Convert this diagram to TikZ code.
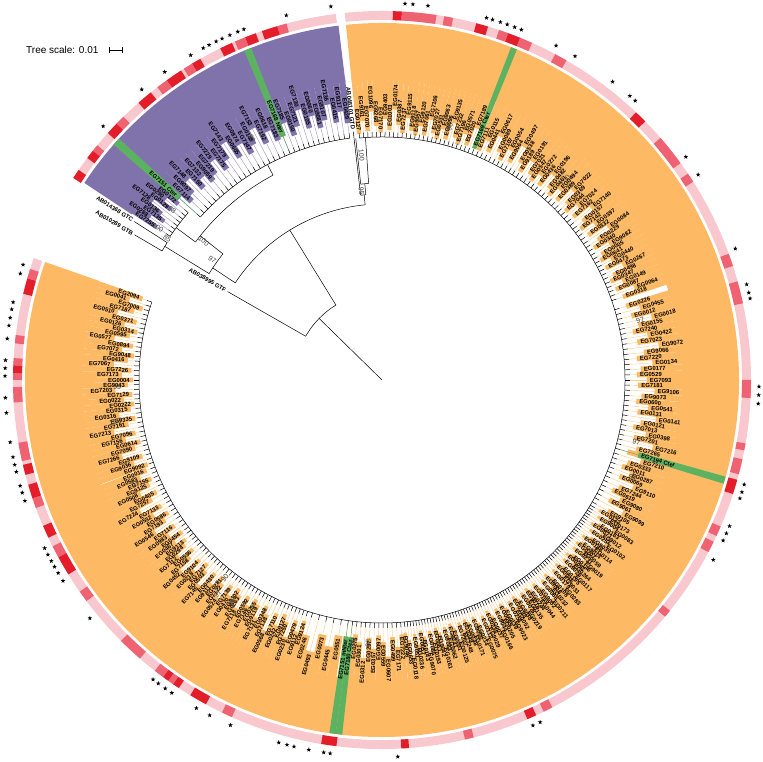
\documentclass[tikz,border=0pt]{standalone}
\usepackage{fontspec}
\setmainfont{Liberation Sans}
\usepackage{tikz}
\usetikzlibrary{shapes.geometric,calc}
\definecolor{cladeor}{RGB}{253,185,99}
\definecolor{cladepu}{RGB}{128,115,172}
\definecolor{hlgreen}{RGB}{92,178,96}
\definecolor{ringlt}{RGB}{249,200,206}
\definecolor{ringmd}{RGB}{239,98,114}
\definecolor{ringdk}{RGB}{227,30,42}
\newcommand{\leaffont}{\fontsize{5.9}{5.9}\selectfont\bfseries}
\newcommand{\bootfont}{\fontsize{7}{7}\selectfont}
\tikzset{
  branch/.style   = {draw=black, line width=0.5pt},
  stemlt/.style   = {line width=0.45pt},
  leaflbl/.style  = {font=\leaffont, inner sep=0pt, text=black},
  bootlbl/.style  = {font=\bootfont, inner sep=0pt, text=black!75},
  starmark/.style = {star, star points=5, star point ratio=2.4, fill=black,
                     inner sep=0pt, minimum size=4.8pt},
}
% annular band: #1 fill, #2 from angle, #3 to angle, #4 inner r, #5 outer r
\newcommand{\annband}[5]{\fill[#1] ({#2}:{#4}) arc[start angle={#2}, end angle={#3}, radius={#4}]
  -- ({#3}:{#5}) arc[start angle={#3}, end angle={#2}, radius={#5}] -- cycle;}
% leaf beds: #1 start angle, #2 step, #3 tip base, #4 stem base, #5 clade colour, #6 labels
\newcommand{\leafbed}[6]{%
  \foreach \lab [count=\k] in #6 {%
    \pgfmathsetmacro\ang{#1+(\k-1)*(#2)}%
    \pgfmathsetmacro\rt{#3+26*(mod(\k*37+11,23)/23)^2}%
    \pgfmathsetmacro\aa{\ang-abs(#2)/2}%
    \pgfmathsetmacro\ab{\ang+abs(#2)/2}%
    \annband{#5}{\aa}{\ab}{\rt-3}{304}%
    \draw[stemlt, draw=#5!70!white] ({\ang}:{#4+5}) -- ({\ang}:{\rt-3});
    \draw[branch] ({\ang}:{#4}) -- ({\ang}:{#4+5});
  }}
% leaf texts: #1 start angle, #2 step, #3 tip base, #4 name prefix, #5 labels
\newcommand{\leaftext}[5]{%
  \foreach \lab [count=\k] in #5 {%
    \pgfmathsetmacro\ang{#1+(\k-1)*(#2)}%
    \pgfmathsetmacro\rt{#3+26*(mod(\k*37+11,23)/23)^2}%
    \pgfmathtruncatemacro\flip{cos(\ang)<0}%
    \pgfmathsetmacro\rot{\ang+180*\flip}%
    \ifnum\flip=1 \def\anc{east}\else\def\anc{west}\fi
    \node[leaflbl, rotate=\rot, anchor=\anc] (#4\k) at ({\ang}:{\rt}) {\lab};
  }}
% leaf lists, clockwise from the top
\newcommand{\listOA}{EG0127,EG9161,EG7070,EG1096,EG9268,EG7170,EG9403,EG1003,EG0174,EG0387,EG7237,EG9115,EG9118,EG9057,EG9120,EG7061,EG7106,EG7027,EG0531,EG9063,EG0096,EG9135,EG7232,EG7196,EG0571,EG7020,EG7189,~}
\newcommand{\listOB}{EG7111,EG0115,EG0441,EG0617,EG0089,EG7107,EG0054,EG9064,EG0497,EG0538,EG9189,EG0191,EG7021,EG0547,EG0272,EG0436,EG0196,EG0482,EG0461,EG0494,EG0389,EG7022,EG0369,EG7044,EG7024,EG7162,EG7140,EG0157,EG7142,EG0397,EG0332,EG0084,EG0229,EG0340,EG9082,EG0005,EG0641,EG0440,EG0473,EG0267,EG0498,EG0347,EG0149,EG0087,EG0064,EG0318}
\newcommand{\listOC}{EG0226,EG0455,EG0012,EG0018,EG0155,EG7240,EG0422,EG7023,EG9072,EG9066,EG7220,EG0134,EG0177,EG0529,EG7093,EG7181,EG9106,EG9073}
\newcommand{\listOD}{EG0600,EG0541,EG0131,EG0141,EG0121,EG7013,EG0398,EG7201,EG7216,EG7265,~,EG7210,EG0333,EG0011,EG0287,EG0069,EG9110,EG7244,EG0619,EG9080,EG9061,EG9099,EG9105}
\newcommand{\listOE}{EG0123,EG0173,EG9004,EG0083,EG0163,EG0071,EG9012,EG0253,EG0102,EG9035,
EG0188,EG0114,EG9014,EG0207,EG0059,EG0231,EG9019,EG0146,EG0092,EG0264,
EG9026,EG0117,EG0195,EG0046,EG9031,EG0179,EG0283,EG0108,EG9008,EG0232,
EG0066,EG0211,EG9052,EG0159,EG0044,EG0244,EG9016,EG0135,EG0078,EG0219,
EG9038,EG0184,EG0052,EG0258,EG9023,EG0139,EG0099,EG0205,EG9044,EG0166,
EG0037,EG0238,EG9029,EG0112,EG0075,EG0214,EG9055,EG0171,EG0048,EG0249,
EG7248,EG7207,EG0125,EG0091,EG9041,EG0062,EG9083,EG0161,EG9042,EG0061,
EG0193,EG0085,EG9070,EG0143,EG0057,EG0236,EG9051,EG0118,EG0653,EG9046}
\newcommand{\listOF}{EG7222,EG7171,EG0499,EG0607,EG0559,EG0097,EG0357,EG0297,EG0312,EG0301,EG0275,~,~}
\newcommand{\listOG}{EG0551,EG0445,EG0073,EG0493,EG0246}
\newcommand{\listOH}{EG9124,EG9112,EG0479,EG0230,EG7250,EG9127,EG0242,EG7110,EG0568,EG7138,
EG0348,EG7131,EG9119,EG0255,EG7146,EG0592,EG7118,EG0263,EG9102,EG0470,
EG7139,EG0524,EG7122,EG0281,EG9111,EG0430,EG7145,EG0503,EG7127,EG0218,
EG9104,EG0452,EG7158,EG0536,EG7112,EG0294,EG9113,EG0467}
\newcommand{\listOI}{EG0454,EG0983,EG7116,EG0546,EG7193,EG0586,EG0532,EG7133,EG7224,EG7257,EG0405,EG0508,EG9125,EG7155,EG0583,EG0016}
\newcommand{\listOJ}{EG9092,EG9036,EG9109,EG7266,EG7090,EG0614,EG7156,EG7096,EG7213,EG7161,EG0335,EG0316,EG0315,EG0222,EG0022,EG7129,EG7203,EG9043,EG0004,EG7173,EG7226,EG7067,EG0416,EG9048,EG7072,EG0894,EG0577,EG0595,EG0314,EG0126,EG0371,EG0510,EG7187,EG7009,EG0041,EG2094}
\newcommand{\listPA}{EG0429,EG9117,EG0415,EG7136,EG9107,EG9081,EG0060,EG0105,EG7130,EG7121,EG0150,EG7185,~}
\newcommand{\listPB}{EG7183,EG0618,EG7152,EG7153,EG0148,EG7147,EG0874,EG0605,EG7143,EG7179,EG7175,EG7229,EG7219,EG9059,EG7132,EG7150,EG7148,EG9097,EG7114,~}
\newcommand{\listPC}{EG0172,EG0290,EG0129,EG7128,EG0136,EG7135,EG0288,EG7255}

\begin{document}
\begin{tikzpicture}[x=1pt, y=1pt]
\useasboundingbox (0,0) rectangle (763,762);

% --- tree scale -----------------------------------------------------------
\node[font=\fontsize{10}{10}\selectfont, anchor=west, inner sep=0pt] (scaletxt) at (26,712) {Tree scale: 0.01};
\coordinate (sbl) at (109,712);
\coordinate (sbr) at (122,712);
\draw[line width=0.6pt] (sbl) -- (sbr);
\draw[line width=0.6pt] ($(sbl)+(0,-3)$) -- ($(sbl)+(0,3)$);
\draw[line width=0.6pt] ($(sbr)+(0,-3)$) -- ($(sbr)+(0,3)$);

\begin{scope}[shift={(382,382)}]

% --- clade ranges ---------------------------------------------------------
\annband{cladeor}{-199.3}{95.8}{300}{357}
\annband{cladepu}{97.0}{146.5}{300}{357}
\leafbed{95.3}{-1.0}{250}{243}{cladeor}{\listOA}
\leafbed{67.2}{-1.07}{252}{243}{cladeor}{\listOB}
\leafbed{16.8}{-1.2}{258}{243}{cladeor}{\listOC}
\leafbed{-4.8}{-1.15}{258}{243}{cladeor}{\listOD}
\leafbed{-31.0}{-0.68}{256}{243}{cladeor}{\listOE}
\leafbed{-85.6}{-1.03}{258}{243}{cladeor}{\listOF}
\leafbed{-99.6}{-1.75}{262}{243}{cladeor}{\listOG}
\leafbed{-107.8}{-0.92}{256}{243}{cladeor}{\listOH}
\leafbed{-142.8}{-1.08}{254}{243}{cladeor}{\listOI}
\leafbed{-160.2}{-1.1}{252}{243}{cladeor}{\listOJ}
\leafbed{97.6}{1.208}{262}{244}{cladepu}{\listPA}
\leafbed{113.4}{1.3}{264}{244}{cladepu}{\listPB}
\leafbed{139.2}{0.95}{272}{256}{cladepu}{\listPC}

% --- highlighted domains --------------------------------------------------
\foreach \ang/\rt/\hw in {68.3/252/0.5, -16.3/270/0.58, -96.93/262/0.52, -97.96/262/0.52,
                          112.1/266/0.6, 138.1/276/0.65} {
  \annband{hlgreen}{\ang-\hw}{\ang+\hw}{\rt-3}{357}
  \draw[stemlt, draw=hlgreen] ({\ang}:248) -- ({\ang}:{\rt-3});
}

% --- outer ring -----------------------------------------------------------
\annband{ringlt}{-199.3}{95.8}{360}{369}
\annband{ringlt}{97.2}{146.8}{360}{369}
\foreach \a/\b/\col in {88.3/86.9/ringdk, 86.9/81.5/ringmd, 80.3/78.9/ringmd, 75.2/73.3/ringdk,
  71.5/70/ringmd, 70/68/ringdk, 68/66/ringmd, 62/60/ringmd, 46.5/44.5/ringdk, 41/36/ringmd,
  34/32.5/ringmd, 20/18/ringmd, 15.5/12/ringmd, 0/-2.8/ringmd, -9.9/-11/ringmd, -12.4/-14.8/ringmd,
  -15.7/-18/ringdk, -23.4/-25/ringmd, -26/-27.8/ringmd, -38.7/-39.9/ringmd, -62.5/-64/ringmd,
  -65.3/-66.8/ringdk, -75.6/-77/ringmd, -85.8/-87/ringdk, -97.1/-99.5/ringdk,
  -115.7/-114/ringmd, -121.3/-118.5/ringdk, -124.5/-123.4/ringdk, -125.4/-124.5/ringmd,
  -126.4/-125.4/ringdk, -128/-126.4/ringmd, -135/-131/ringmd, -145/-143.2/ringmd,
  -151.3/-148.2/ringdk, -153.2/-151.3/ringmd, -156.7/-154.7/ringdk,
  -161.3/-159.7/ringmd, -163.5/-161.3/ringdk, -166.7/-165.1/ringdk, -170.2/-167.3/ringmd,
  -178.9/-176.5/ringmd, 178.9/180/ringmd, 177.7/178.9/ringdk, 176.6/177.7/ringmd,
  173/174.3/ringmd, 164/166.5/ringdk, 162.5/164/ringmd,
  105/106.5/ringmd, 106.5/109/ringdk, 110/111.8/ringdk, 111.8/113.5/ringmd, 114/116/ringdk,
  119.5/121/ringdk, 121/122.5/ringmd, 123/125.7/ringdk, 125.7/127.5/ringmd, 128.8/131.3/ringdk,
  134.5/136/ringmd, 136/138/ringdk, 140.5/141.6/ringmd, 141.6/143/ringdk, 145.3/146.8/ringdk} {
  \annband{\col}{\a}{\b}{360}{369}
}

% --- backbone -------------------------------------------------------------
\coordinate (root) at (0,0);
\coordinate (nA) at (135.6:88);
\coordinate (nB) at (121.6:176);
\draw[branch] (root) -- (nA);
\draw[branch] (121.6:88) arc[start angle=121.6, end angle=150.2, radius=88];
\draw[branch] (150.2:88) -- (150.2:178);
\draw[branch] (121.6:88) -- (nB);
\draw[branch] (95.5:176) arc[start angle=95.5, end angle=146.5, radius=176];
% orange side
\draw[branch] (95.5:176) -- (95.5:186);
\draw[branch] (95.0:186) arc[start angle=95.0, end angle=96.6, radius=186];
\draw[branch] (96.6:186) -- (96.6:250);
\draw[branch] (95.0:186) -- (95.0:197);
\draw[branch] (93.9:197) arc[start angle=93.9, end angle=96.2, radius=197];
\draw[branch] (96.2:197) -- (96.2:243);
\draw[branch] (93.9:197) -- (93.9:243);
\draw[branch] (95.3:243) arc[start angle=95.3, end angle=-198.7, radius=243];
% purple side and outgroups
\draw[branch] (146.5:176) -- (146.5:203);
\draw[branch] (141.6:203) arc[start angle=141.6, end angle=148.4, radius=203];
\draw[branch] (148.4:203) -- (148.4:255);
\draw[branch] (147.4:255) arc[start angle=147.4, end angle=149.6, radius=255];
\draw[branch] (147.4:255) -- (147.4:294);
\draw[branch] (149.6:255) -- (149.6:287);
\draw[branch] (141.6:203) -- (141.6:232);
\draw[branch] (118:232) arc[start angle=118, end angle=143.5, radius=232];
\draw[branch] (118:232) -- (118:244);
\draw[branch] (97.6:244) arc[start angle=97.6, end angle=138.1, radius=244];
\draw[branch] (143.5:232) -- (143.5:256);
\draw[branch] (139.2:256) arc[start angle=139.2, end angle=145.9, radius=256];

% --- leaf labels ----------------------------------------------------------
\leaftext{95.3}{-1.0}{250}{oa}{\listOA}
\leaftext{67.2}{-1.07}{252}{ob}{\listOB}
\leaftext{16.8}{-1.2}{258}{oc}{\listOC}
\leaftext{-4.8}{-1.15}{258}{od}{\listOD}
\leaftext{-31.0}{-0.68}{256}{oe}{\listOE}
\leaftext{-85.6}{-1.03}{258}{of}{\listOF}
\leaftext{-99.6}{-1.75}{262}{og}{\listOG}
\leaftext{-107.8}{-0.92}{256}{oh}{\listOH}
\leaftext{-142.8}{-1.08}{254}{oi}{\listOI}
\leaftext{-160.2}{-1.1}{252}{oj}{\listOJ}
\leaftext{97.6}{1.208}{262}{pa}{\listPA}
\leaftext{113.4}{1.3}{264}{pb}{\listPB}
\leaftext{139.2}{0.95}{272}{pc}{\listPC}
\foreach \ang/\rt/\txt [count=\g] in {68.3/252/EG7169 Cter, -16.3/270/EG7194 Cter,
    -96.93/262/EG7180 Cter, -97.96/262/EG7151 mNter, 112.1/266/EG7168 Nter, 138.1/276/EG7151 Cter} {
  \pgfmathtruncatemacro\flip{cos(\ang)<0}
  \pgfmathsetmacro\rot{\ang+180*\flip}
  \ifnum\flip=1 \def\anc{east}\else\def\anc{west}\fi
  \node[leaflbl, rotate=\rot, anchor=\anc] (hl\g) at ({\ang}:{\rt}) {\txt};
}
% outgroups
\node[leaflbl, rotate=276.6, anchor=east] (gtd) at (96.6:252) {AB048101 GTD};
\node[leaflbl, rotate=-32.6, anchor=east] (gtc) at (147.4:296) {AB014368 GTC};
\node[leaflbl, rotate=-30.4, anchor=east] (gtb) at (149.6:289) {AB010289 GTB};
\node[leaflbl, rotate=-29.8, anchor=east] (gtf) at (150.2:180) {AB038995 GTF};

% --- bootstrap values -----------------------------------------------------
\foreach \ang/\rr/\bs [count=\b] in {96.2/190/95, 95.2/226/100, 144.7/208/97, 142.1/226/100,
    141/270/98, 146.7/257/85, 145.8/271/100, 139.5/288/97, 118.3/274/99, 47.5/271/100,
    75/262/95, -21.3/269/94, 13/265/97, -13.8/262/97, 188.9/270/100, 181.5/265/95,
    203/268/97, 231.6/253/90, 232.5/270/97, 236.1/269/98, 263.7/264/99, 267/264/98} {
  \pgfmathtruncatemacro\flip{cos(\ang)<0}
  \pgfmathsetmacro\rot{\ang+180*\flip}
  \node[bootlbl, rotate=\rot] (bs\b) at ({\ang}:{\rr}) {\bs};
}

% --- significance stars ---------------------------------------------------
\foreach \a [count=\i] in {86.5, 85.3, 83.0, 73.9, 72.95, 71.7, 70.6, 69.4, 68.3, 62.5, 59.2,
    52.3, 48.9, 47.8, 36.3, 33.0, 20.4, 14.7, 13.4, 12.5, -1.0, -2.3, -3.6, -16.1, -17.3,
    -18.3, -22.8, -24.0, -25.2, -28.5, -65.2, -66.4, -87.6, -97.9, -98.9, -101.2, -103.5,
    -104.6, -105.9, -113.7, -117.2, -119.5, -123.9, -125.1, -126.4, -127.4, -140.8, -147.8,
    -149.2, -150.3, -151.3, -152.4, -153.5, 198.7, 197.4, 196.3, 194.1, 193.0, 191.8, 189.5,
    185, 182.7, 179.4, 178.2, 177, 173.7, 171.7, 170.5, 169.2, 168.1, 163.6, 162.2,
    97.8, 104.7, 111.5, 112.5, 113.8, 115.1, 116.1, 117.3, 118.3, 120.5, 125.2, 129.6, 137.7} {
  \node[starmark] (st\i) at (\a:377) {};
}

\end{scope}
\end{tikzpicture}
\end{document}
